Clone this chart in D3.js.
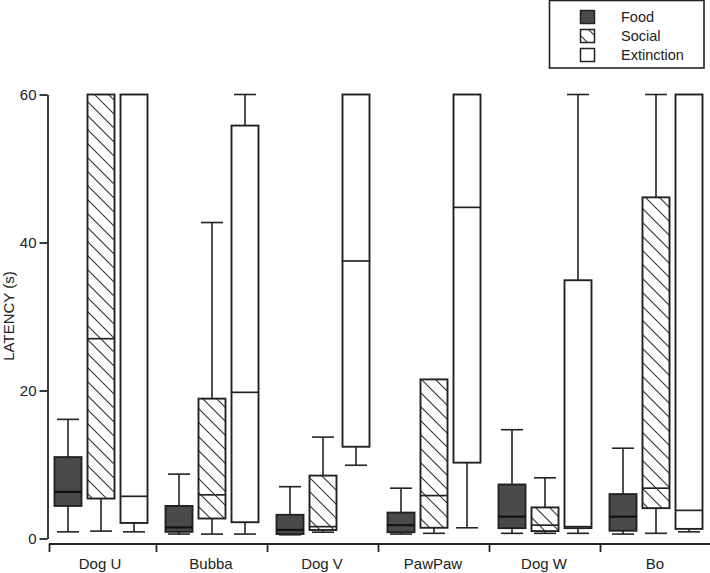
<!DOCTYPE html>
<html>
<head>
<meta charset="utf-8">
<script src="https://cdn.jsdelivr.net/npm/d3@7"></script>
<style>
  html, body { margin: 0; padding: 0; background: #fff; }
  svg { display: block; font-family: "Liberation Sans", Arial, sans-serif; }
</style>
</head>
<body>
<svg id="chart" width="710" height="573"></svg>
<script>
// ---- data (stats: [min, q1, median, q3, max]) ----
const dogs = ["Dog U", "Bubba", "Dog V", "PawPaw", "Dog W", "Bo"];
const series = ["Food", "Social", "Extinction"];
const foodStats = [
  [0.9, 4.4, 6.3, 11.0, 16.1],
  [0.6, 0.9, 1.5, 4.4, 8.7],
  [0.5, 0.6, 1.15, 3.2, 7.0],
  [0.6, 0.85, 1.8, 3.5, 6.8],
  [0.7, 1.4, 2.95, 7.3, 14.7],
  [0.6, 1.05, 2.95, 6.0, 12.2]
];
const socialStats = [
  [1.0, 5.4, 27.0, 60, 60],
  [0.6, 2.7, 5.9, 18.9, 42.7],
  [0.85, 1.15, 1.6, 8.5, 13.7],
  [0.7, 1.45, 5.8, 21.5, 21.5],
  [0.7, 1.0, 1.8, 4.2, 8.2],
  [0.7, 4.1, 6.8, 46.1, 60]
];
const extinctionStats = [
  [0.9, 2.1, 5.7, 60, 60],
  [0.6, 2.2, 19.75, 55.8, 60],
  [9.9, 12.4, 37.5, 60, 60],
  [1.45, 10.25, 44.75, 60, 60],
  [0.7, 1.4, 1.6, 34.9, 60],
  [0.9, 1.3, 3.8, 60, 60]
];
const yTicks = [0, 20, 40, 60];
const yLabel = "LATENCY (s)";

const statsBySeries = { Food: foodStats, Social: socialStats, Extinction: extinctionStats };
const ink = "#222";

const svg = d3.select("#chart");

// pattern for Social
const defs = svg.append("defs");
const pat = defs.append("pattern")
  .attr("id", "hatch").attr("patternUnits", "userSpaceOnUse")
  .attr("width", 14).attr("height", 14);
pat.append("rect").attr("width", 14).attr("height", 14).attr("fill", "#fff");
pat.append("path").attr("d", "M-2,-2 L16,16 M-2,12 L2,16 M12,-2 L16,2")
  .attr("stroke", "#333").attr("stroke-width", 1.1);

const fills = { Food: "#4a4a4a", Social: "url(#hatch)", Extinction: "#fff" };

// scales
const y = d3.scaleLinear().domain([0, 60]).range([538.5, 94.5]);
const x = d3.scaleBand().domain(dogs).range([45.5, 711.5]).padding(0);
const xi = d3.scaleBand().domain(series).range([6, 105]).padding(0);
const boxW = xi.bandwidth() - 6;
const capW = 22;

// y axis
const yAxis = d3.axisLeft(y).tickValues(yTicks).tickSize(8).tickPadding(3).tickSizeOuter(0);
const gy = svg.append("g").attr("transform", "translate(47.5,0)").call(yAxis);
gy.select(".domain").attr("stroke", ink).attr("stroke-width", 1.8);
gy.selectAll(".tick line").attr("stroke", ink).attr("stroke-width", 1.8);
gy.selectAll(".tick text").attr("font-size", 15).attr("fill", ink)
  .attr("font-family", "Liberation Sans, Arial, sans-serif");

svg.append("text")
  .attr("transform", `translate(14,316) rotate(-90)`)
  .attr("text-anchor", "middle").attr("font-size", 15).attr("fill", ink)
  .text(yLabel);

// x axis
const axisY = 544;
const gx = svg.append("g");
gx.append("line").attr("x1", 49).attr("x2", 710).attr("y1", axisY).attr("y2", axisY)
  .attr("stroke", ink).attr("stroke-width", 1.8);
gx.selectAll("line.tk").data(dogs).join("line").attr("class", "tk")
  .attr("x1", (d, i) => i === 0 ? 49.5 : x(d)).attr("x2", (d, i) => i === 0 ? 49.5 : x(d))
  .attr("y1", axisY).attr("y2", axisY + 8)
  .attr("stroke", ink).attr("stroke-width", 1.8);
gx.selectAll("text").data(dogs).join("text")
  .attr("x", d => x(d) + x.bandwidth() / 2 - 1).attr("y", 569)
  .attr("text-anchor", "middle").attr("font-size", 15).attr("fill", ink)
  .text(d => d);

// boxes
const items = [];
dogs.forEach((dog, i) => {
  series.forEach(s => {
    const [mn, q1, md, q3, mx] = statsBySeries[s][i];
    items.push({ dog, s, mn, q1, md, q3, mx, cx: x(dog) + xi(s) + xi.bandwidth() / 2 });
  });
});

const g = svg.append("g");
const grp = g.selectAll("g.box").data(items).join("g").attr("class", "box");

// lower whisker
grp.filter(d => d.q1 - d.mn > 0.05).append("line")
  .attr("x1", d => d.cx).attr("x2", d => d.cx)
  .attr("y1", d => y(d.q1)).attr("y2", d => y(d.mn))
  .attr("stroke", ink).attr("stroke-width", 1.6);
grp.append("line")
  .attr("x1", d => d.cx - capW / 2).attr("x2", d => d.cx + capW / 2)
  .attr("y1", d => y(d.mn)).attr("y2", d => y(d.mn))
  .attr("stroke", ink).attr("stroke-width", 1.6);
// upper whisker
const up = grp.filter(d => d.mx - d.q3 > 0.05);
up.append("line")
  .attr("x1", d => d.cx).attr("x2", d => d.cx)
  .attr("y1", d => y(d.q3)).attr("y2", d => y(d.mx))
  .attr("stroke", ink).attr("stroke-width", 1.6);
up.append("line")
  .attr("x1", d => d.cx - capW / 2).attr("x2", d => d.cx + capW / 2)
  .attr("y1", d => y(d.mx)).attr("y2", d => y(d.mx))
  .attr("stroke", ink).attr("stroke-width", 1.6);
// box
grp.append("rect")
  .attr("x", d => d.cx - boxW / 2).attr("width", boxW)
  .attr("y", d => y(d.q3)).attr("height", d => y(d.q1) - y(d.q3))
  .attr("fill", d => fills[d.s]).attr("stroke", ink).attr("stroke-width", 1.9);
// median
grp.append("line")
  .attr("x1", d => d.cx - boxW / 2).attr("x2", d => d.cx + boxW / 2)
  .attr("y1", d => y(d.md)).attr("y2", d => y(d.md))
  .attr("stroke", d => d.s === "Food" ? "#111" : ink)
  .attr("stroke-width", d => d.s === "Food" ? 2.2 : 1.7);

// legend
const lg = svg.append("g");
lg.append("rect").attr("x", 549.5).attr("y", 0.5).attr("width", 154.5).attr("height", 67.5)
  .attr("fill", "#fff").attr("stroke", ink).attr("stroke-width", 1.6);
const lItems = lg.selectAll("g.li").data(series).join("g").attr("class", "li")
  .attr("transform", (d, i) => `translate(0,${10 + i * 19})`);
lItems.append("rect").attr("x", 580.5).attr("y", 0.5).attr("width", 14).attr("height", 13)
  .attr("fill", d => fills[d]).attr("stroke", ink).attr("stroke-width", 1.5);
lItems.append("text").attr("x", 621).attr("y", 11.5)
  .attr("font-size", 14.5).attr("fill", ink).text(d => d);
</script>
</body>
</html>
